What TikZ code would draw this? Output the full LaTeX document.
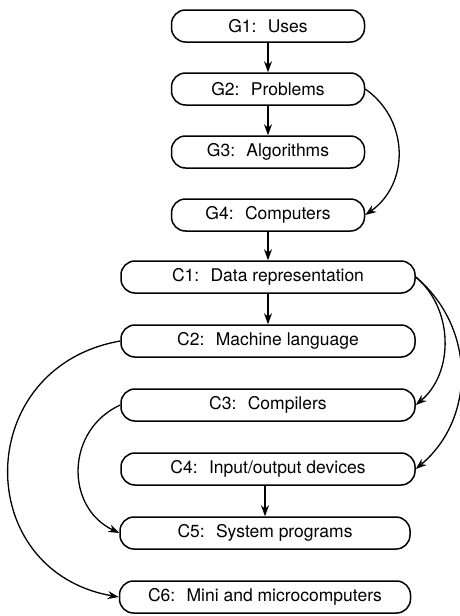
\documentclass[tikz,border=0pt]{standalone}
\usepackage{fontspec}
\setmainfont{TeX Gyre Heros}
\usetikzlibrary{
        arrows.meta,
        positioning
    }
\tikzset{>={Stealth[length=11pt,width=8pt]},auto,node distance=29.5pt}
\tikzset{topic/.style={draw,line width=1.5pt,rounded corners=14pt,minimum height=32pt,inner sep=0pt,font=\fontsize{17.5}{20}\selectfont}}
\tikzset{gtopic/.style={topic,minimum width=193pt}}
\tikzset{ctopic/.style={topic,minimum width=294pt}}

\begin{document}
\begin{tikzpicture}[line width=1.3pt]
                \useasboundingbox (0,0) rectangle (460pt,-616pt);
                \node[gtopic] (g1) at (268pt,-26pt) {G1:~ Uses};
                \node[gtopic] (g2) [below=of g1] {G2:~ Problems};
                \node[gtopic] (g3) [below=of g2] {G3:~ Algorithms};
                \node[gtopic] (g4) [below=of g3] {G4:~ Computers};
                \node[ctopic] (c1) [below=28.5pt of g4] {C1:~ Data representation};
                \node[ctopic] (c2) [below=30.5pt of c1] {C2:~ Machine language};
                \node[ctopic] (c3) [below=30.5pt of c2] {C3:~ Compilers};
                \node[ctopic] (c4) [below=30.5pt of c3] {C4:~ Input/output devices};
                \node[ctopic,minimum width=290pt] (c5) [below=30.5pt of c4,xshift=-3pt] {C5:~ System programs};
                \node[ctopic,minimum width=291pt] (c6) [below=30.5pt of c5] {C6:~ Mini and microcomputers};
                \path[->]
                    (g1)  edge (g2)
                    (g2)  edge (g3)
                    (g2.east)  edge[bend left=55,looseness=1.1] (g4.east)
                    (g4)  edge (c1)
                    (c1)  edge (c2)
                    (c1.east)  edge[bend left=50] (c3.east)
                    (c1.east)  edge[bend left=50,looseness=1.05] (c4.east)
                    (c2.west)  edge[out=190,in=170,looseness=1.5] (c6.west)
                    (c3.west)  edge[bend right=65,looseness=1.2] (c5.west)
                    (c4.south -| c5)  edge (c5)
                    ;
            \end{tikzpicture}
\end{document}
